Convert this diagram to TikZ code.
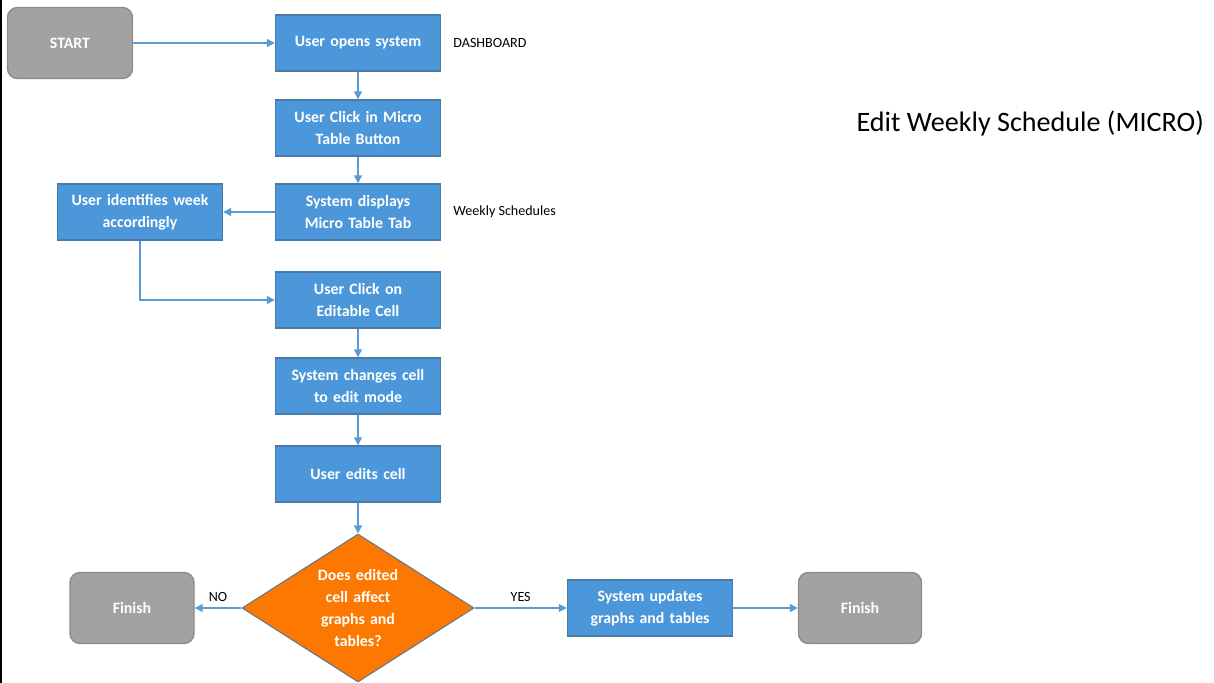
\documentclass[tikz,border=0pt]{standalone}
\usepackage{fontspec}
\setmainfont{Carlito}
\usepackage{tikz}
\usetikzlibrary{shapes.geometric, positioning, arrows.meta}
\usepackage{xcolor}

\definecolor{boxblue}{HTML}{4C97D9}
\definecolor{boxedge}{HTML}{4A7AA8}
\definecolor{termgray}{HTML}{A2A2A2}
\definecolor{termedge}{HTML}{8C8C8C}
\definecolor{askorange}{HTML}{FC7800}
\definecolor{askedge}{HTML}{5F7890}
\definecolor{linkblue}{HTML}{5B9BD5}

\begin{document}
\begin{tikzpicture}[node distance=1.72cm, auto]

% Define styles
\tikzstyle{block} = [rectangle, draw=boxedge, line width=0.8pt, fill=boxblue, text=white, font=\fontsize{9}{12.5}\selectfont\bfseries, text width=3.1cm, align=center, minimum width=3.3cm, minimum height=1.12cm, inner sep=0pt]
\tikzstyle{terminal} = [rectangle, draw=termedge, line width=0.8pt, fill=termgray, text=white, font=\fontsize{9}{12.5}\selectfont\bfseries, rounded corners=0.2cm, minimum width=2.5cm, minimum height=1.42cm]
\tikzstyle{decision} = [diamond, aspect=1.57, draw=askedge, line width=0.6pt, fill=askorange, text=white, font=\fontsize{9}{12.5}\selectfont\bfseries, text width=1.85cm, align=center, minimum width=4.64cm, minimum height=2.96cm, inner sep=0pt]
\tikzstyle{arrow} = [draw=linkblue, line width=0.75pt, -{Triangle[length=1.6mm, width=1.6mm]}]
\tikzstyle{note} = [font=\fontsize{8}{10}\selectfont, anchor=west]

% Page frame
\useasboundingbox (0,0) rectangle (24.28,-13.66);
\draw [line width=0.8pt] (0.02,0) -- (0.02,-13.66);

% Main column
\node [block] (open) at (7.16,-0.86) {User opens system};
\node [terminal, left of=open, xshift=-4.04cm] (start) {START};
\node [block, below of=open, yshift=0.02cm] (microbtn) {User Click in Micro\\Table Button};
\node [block, below of=microbtn, yshift=0.04cm] (displays) {System displays\\Micro Table Tab};
\node [block, left of=displays, xshift=-2.64cm] (identify) {User identifies week\\accordingly};
\node [block, below of=displays, yshift=-0.04cm] (clickcell) {User Click on\\Editable Cell};
\node [block, below of=clickcell] (changes) {System changes cell\\to edit mode};
\node [block, below of=changes, yshift=-0.04cm] (edits) {User edits cell};

% Decision row
\node [decision, below of=edits, yshift=-0.96cm] (affect) {Does edited\\cell affect\\graphs and\\tables?};
\node [terminal, left of=affect, xshift=-2.8cm, minimum width=2.48cm] (finishno) {Finish};
\node [block, right of=affect, xshift=4.12cm] (updates) {System updates\\graphs and tables};
\node [terminal, right of=updates, xshift=2.48cm, minimum width=2.46cm] (finishyes) {Finish};

% Side notes
\node [note] at ([xshift=0.12cm]open.east) (dashnote) {DASHBOARD};
\node [note] at ([xshift=0.12cm]displays.east) (weeknote) {Weekly Schedules};
\node [font=\fontsize{16}{18}\selectfont, anchor=east] at (24.2,-2.46) (title) {Edit Weekly Schedule (MICRO)};

% Arrows
\draw [arrow] (start) -- (open);
\draw [arrow] (open) -- (microbtn);
\draw [arrow] (microbtn) -- (displays);
\draw [arrow] (displays) -- (identify);
\draw [arrow] (identify.south) |- (clickcell.west);
\draw [arrow] (clickcell) -- (changes);
\draw [arrow] (changes) -- (edits);
\draw [arrow] (edits) -- (affect);
\draw [arrow] (affect) -- node [above, text=black, font=\fontsize{8}{10}\selectfont] {NO} (finishno);
\draw [arrow] (affect) -- node [above, text=black, font=\fontsize{8}{10}\selectfont] {YES} (updates);
\draw [arrow] (updates) -- (finishyes);

\end{tikzpicture}
\end{document}
